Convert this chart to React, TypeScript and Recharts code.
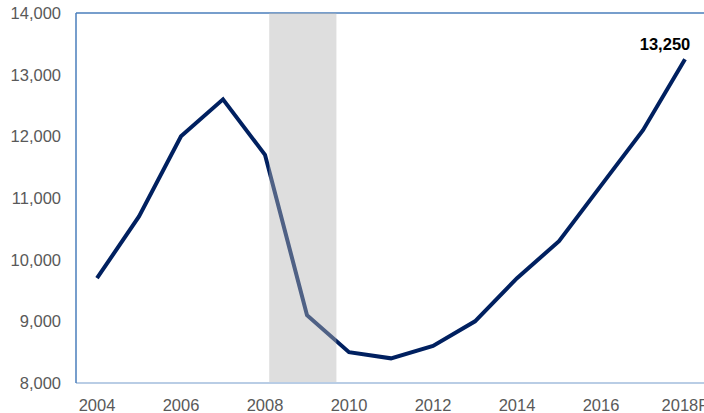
import React from "react";
import { LineChart, Line, XAxis, YAxis, ReferenceArea, ReferenceLine } from "recharts";

const years = [2004, 2005, 2006, 2007, 2008, 2009, 2010, 2011, 2012, 2013, 2014, 2015, 2016, 2017, 2018];
const values = [9700, 10700, 12000, 12600, 11700, 9100, 8500, 8400, 8600, 9000, 9700, 10300, 11200, 12100, 13250];
const xTicks = [2004, 2006, 2008, 2010, 2012, 2014, 2016, 2018];
const yTicks = [8000, 9000, 10000, 11000, 12000, 13000, 14000];
const recession = { start: 2008.1, end: 2009.7 };
const forecastYear = 2018;

const data = years.map((y, i) => ({ year: y, value: values[i] }));

const FONT = "'Liberation Sans', Arial, sans-serif";

const lastLabel = (props: any) => {
  const { x, y, index, value } = props;
  if (index !== values.length - 1) return null;
  return (
    <text x={x - 20} y={y - 9} textAnchor="middle" fontFamily={FONT} fontSize={16.5} fontWeight="bold" fill="#000">
      {Number(value).toLocaleString("en-US")}
    </text>
  );
};

export default function App() {
  return (
    <div style={{ position: "absolute", left: 0, top: 0, width: 704, height: 413, overflow: "hidden", background: "#fff" }}>
      <LineChart width={720} height={413} data={data} margin={{ top: 13, right: 14, bottom: 0, left: 0 }}>
        <XAxis
          dataKey="year"
          type="number"
          domain={[2003.5, 2018.5]}
          ticks={xTicks}
          tickFormatter={(v: number) => (v === forecastYear ? `${v}F` : `${v}`)}
          tickLine={false}
          axisLine={{ stroke: "#b9cde5", strokeWidth: 2 }}
          tick={{ fill: "#595959", fontSize: 16.5, fontFamily: FONT }}
          tickMargin={10}
          height={30}
          interval={0}
        />
        <YAxis
          domain={[8000, 14000]}
          ticks={yTicks}
          tickFormatter={(v: number) => v.toLocaleString("en-US")}
          tickLine={false}
          axisLine={{ stroke: "#4a7ebb", strokeWidth: 1.5 }}
          tick={{ fill: "#595959", fontSize: 16.5, fontFamily: FONT }}
          tickMargin={9}
          width={76}
          interval={0}
        />
        <ReferenceLine y={14000} stroke="#4a7ebb" strokeWidth={1.5} />
        <Line
          type="linear"
          dataKey="value"
          stroke="#002060"
          strokeWidth={4}
          dot={false}
          isAnimationActive={false}
          label={lastLabel}
        />
        <ReferenceArea
          x1={recession.start}
          x2={recession.end}
          y1={8000}
          y2={14000}
          fill="#b4b4b4"
          fillOpacity={0.44}
          stroke="none"
          zIndex={450}
        />
      </LineChart>
    </div>
  );
}
